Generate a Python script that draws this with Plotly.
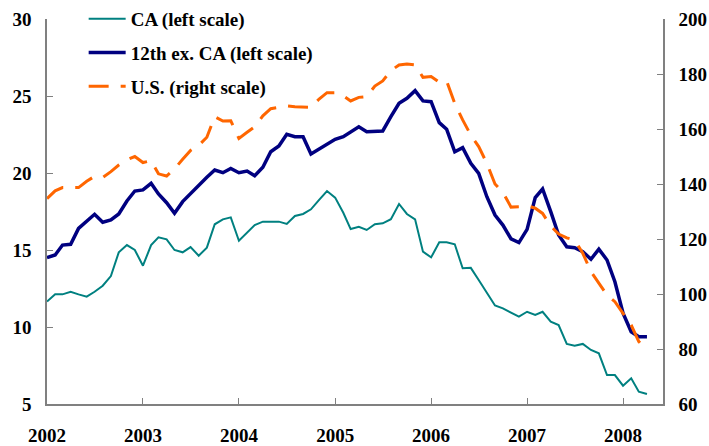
import pandas as pd
import plotly.graph_objects as go

months = pd.date_range("2002-01-01", periods=76, freq="MS")

ca = [11.65, 12.12, 12.12, 12.29, 12.12, 11.97, 12.29, 12.68, 13.31, 14.85, 15.32, 15.0,
      13.98, 15.32, 15.82, 15.69, 15.0, 14.85, 15.19, 14.63, 15.15, 16.67, 16.99, 17.12,
      15.6, 16.12, 16.62, 16.84, 16.84, 16.84, 16.69, 17.21, 17.34, 17.64, 18.25, 18.83,
      18.4, 17.42, 16.36, 16.51, 16.3, 16.67, 16.73, 17.0, 17.99, 17.34, 16.99, 14.89,
      14.52, 15.5, 15.5, 15.37, 13.81, 13.84, 13.05, 12.2, 11.4, 11.21, 10.93, 10.67,
      10.99, 10.78, 10.99, 10.35, 10.13, 8.9, 8.79, 8.9, 8.51, 8.29, 6.88, 6.88,
      6.19, 6.67, 5.8, 5.65]

ex_ca = [14.5, 14.68, 15.32, 15.37, 16.4, 16.88, 17.32, 16.8, 16.95, 17.34, 18.18, 18.83,
         18.9, 19.33, 18.64, 18.07, 17.38, 18.14, 18.68, 19.22, 19.72, 20.19, 20.02, 20.3,
         20.02, 20.13, 19.82, 20.37, 21.38, 21.75, 22.51, 22.36, 22.36, 21.23, 21.54, 21.82,
         22.19, 22.36, 22.65, 23.0, 22.68, 22.73, 22.73, 23.66, 24.53, 24.85, 25.35, 24.68,
         24.63, 23.27, 22.84, 21.38, 21.65, 20.63, 19.98, 18.46, 17.27, 16.62, 15.72, 15.48,
         16.34, 18.4, 18.96, 17.49, 15.97, 15.21, 15.15, 14.89, 14.4, 15.06, 14.35, 12.94,
         10.89, 9.69, 9.37, 9.37]

us = [134.7, 137.5, 138.7, 138.8, 138.7, 141.0, 142.8, 142.4, 144.5, 146.9, 148.8, 150.0,
      147.8, 148.5, 143.7, 142.9, 145.5, 149.0, 152.2, 154.0, 157.0, 164.5, 162.9, 163.0,
      156.6, 158.8, 160.8, 164.8, 167.4, 167.9, 168.4, 168.1, 168.0, 167.9, 170.9, 173.2,
      173.2, 172.1, 170.2, 171.5, 171.8, 175.6, 177.5, 181.2, 183.3, 183.6, 183.3, 178.8,
      179.1, 177.0, 177.5, 169.3, 163.3, 157.8, 153.6, 147.5, 140.0, 137.0, 131.6, 131.7,
      132.1, 131.2, 129.3, 124.7, 121.8, 120.4, 119.6, 114.8, 108.1, 103.9, 99.6, 97.2,
      93.0, 88.7, 82.7, 79.4]

names = ["CA (left scale)", "12th ex. CA (left scale)", "U.S. (right scale)"]

FAM = "Liberation Serif, Times New Roman, DejaVu Serif, serif"
TF = dict(family=FAM, size=19, color="black", weight="bold")
AXC = "#808080"

fig = go.Figure()
fig.add_trace(go.Scatter(x=months, y=ca, name=names[0], mode="lines", legendgroup="a",
                         line=dict(color="#008080", width=2)))
fig.add_trace(go.Scatter(x=months, y=ex_ca, name=names[1], mode="lines", legendgroup="b",
                         line=dict(color="#000080", width=3.5)))
fig.add_trace(go.Scatter(x=months, y=us, name=names[2], mode="lines", yaxis="y2", legendgroup="c",
                         line=dict(color="#FF6600", width=3, dash="20px,12px")))

fig.update_layout(
    width=709, height=446,
    margin=dict(l=47, r=46, t=19, b=42, autoexpand=False),
    paper_bgcolor="white", plot_bgcolor="white",
    font=dict(family=FAM, size=19, color="black"),
    showlegend=True,
    legend=dict(x=0.118, xref="container", y=1.0, yref="container",
                xanchor="left", yanchor="top", bgcolor="rgba(0,0,0,0)",
                tracegroupgap=6, font=TF, traceorder="grouped", itemwidth=37),
    xaxis=dict(range=["2002-01-01", "2008-06-01"], type="date",
               tick0="2002-01-01", dtick="M12", tickformat="%Y",
               showgrid=False, zeroline=False, showline=True, linecolor=AXC, linewidth=1.5,
               ticks="inside", ticklen=6, tickcolor=AXC, tickwidth=1,
               ticklabelstandoff=13, automargin=False, tickfont=TF),
    yaxis=dict(range=[5, 30], dtick=5, showgrid=False, zeroline=False,
               showline=True, linecolor=AXC, linewidth=1.5,
               ticks="inside", ticklen=6, tickcolor=AXC, tickwidth=1,
               ticklabelstandoff=10, automargin=False, tickfont=TF),
    yaxis2=dict(range=[60, 200], dtick=20, overlaying="y", side="right", showgrid=False,
                zeroline=False, showline=True, linecolor=AXC, linewidth=1.5,
                ticks="inside", ticklen=6, tickcolor=AXC, tickwidth=1,
                ticklabelstandoff=10, automargin=False, tickfont=TF),
)

fig.write_html("out.html", config={"displayModeBar": False},
               post_script="document.body.style.margin='0';")
